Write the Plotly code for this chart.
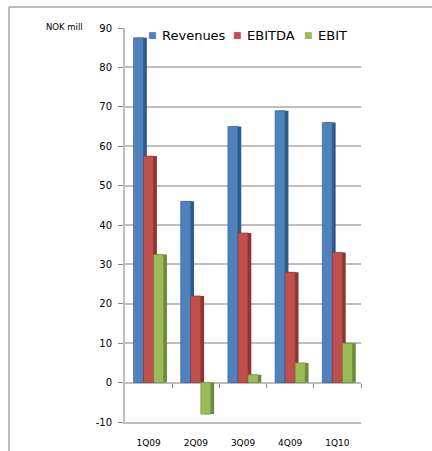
import plotly.graph_objects as go

categories = ["1Q09", "2Q09", "3Q09", "4Q09", "1Q10"]
revenues = [87.5, 46, 65, 69, 66]
ebitda = [57.5, 22, 38, 28, 33]
ebit = [32.5, -8, 2, 5, 10]
series_names = ["Revenues", "EBITDA", "EBIT"]
y_ticks = [-10, 0, 10, 20, 30, 40, 50, 60, 70, 80, 90]
y_ticktext = [str(v) for v in y_ticks]

front_colors = ["#4F81BD", "#C0504D", "#9BBB59"]
side_colors = ["#2F5A8C", "#8E3532", "#6E8A3A"]

W, H = 432, 451
L, R, T, B = 125, 71, 28, 29
pw = W - L - R
ph = H - T - B

xi = list(range(len(categories)))
bw = 0.213
offsets = [-0.32, -0.107, 0.106]
depth = 0.07

fig = go.Figure()
for name, vals, fc, sc, off in zip(series_names, [revenues, ebitda, ebit],
                                   front_colors, side_colors, offsets):
    fig.add_trace(go.Bar(x=xi, y=vals, width=bw, offset=off + depth,
                         marker=dict(color=sc, line=dict(width=0)),
                         showlegend=False, hoverinfo="skip"))
    fig.add_trace(go.Bar(x=xi, y=vals, width=bw, offset=off, name=name,
                         showlegend=False,
                         marker=dict(color=fc, line=dict(width=0.6, color=sc))))

# invisible trace for the zero-line tick axis
fig.add_trace(go.Scatter(x=[0], y=[0], xaxis="x2", mode="markers",
                         marker=dict(opacity=0), showlegend=False, hoverinfo="skip"))

# legend drawn as text entries (square + label)
legend_sq_px = [152, 237, 308]
legend_y = 1 - (35 - T) / ph
annotations = []
for name, fc, sx in zip(series_names, front_colors, legend_sq_px):
    annotations.append(dict(text="■", xref="paper", yref="paper",
                            x=(sx - L) / pw, y=legend_y, xanchor="center",
                            yanchor="middle", showarrow=False,
                            font=dict(size=9, color=fc)))
    annotations.append(dict(text=name, xref="paper", yref="paper",
                            x=(sx + 8 - L) / pw, y=legend_y, xanchor="left",
                            yanchor="middle", showarrow=False,
                            font=dict(size=13, color="#000000")))
annotations.append(dict(text="NOK mill", xref="paper", yref="paper",
                        x=(44 - L) / pw, y=1 + (T - 27) / ph,
                        xanchor="left", yanchor="middle", showarrow=False,
                        font=dict(size=8.5)))

grid = "#BEBEBE"
fig.update_layout(
    width=W, height=H,
    margin=dict(l=L, r=R, t=T, b=B, autoexpand=False),
    barmode="overlay",
    showlegend=False,
    paper_bgcolor="white", plot_bgcolor="white",
    font=dict(family="DejaVu Sans", color="#000000"),
    xaxis=dict(range=[-0.5, 4.5], tickvals=xi, ticktext=categories,
               showgrid=False, zeroline=False, showline=True, linecolor=grid,
               linewidth=2, ticks="", tickfont=dict(size=9), ticklabelstandoff=11,
               automargin=False),
    xaxis2=dict(range=[-0.5, 4.5], overlaying="x", anchor="free",
                position=(0 - (-10)) / (90 - (-10)),
                tickvals=[i + 0.5 for i in xi], showticklabels=False,
                ticks="outside", ticklen=4, tickcolor="#888888", tickwidth=1,
                showgrid=False, zeroline=False, showline=False, automargin=False),
    yaxis=dict(range=[-10, 90], tickvals=y_ticks, ticktext=y_ticktext,
               showgrid=True, gridcolor=grid,
               gridwidth=2, zeroline=True, zerolinecolor=grid, zerolinewidth=2,
               showline=True, linecolor=grid, linewidth=2,
               ticks="outside", ticklen=5, tickcolor="#888888",
               tickfont=dict(size=10), ticklabelstandoff=4, automargin=False),
    annotations=annotations,
    shapes=[
        dict(type="line", xref="paper", yref="paper",
             x0=(9 - L) / pw, x1=(W - L) / pw, y0=1 + (T - 7) / ph, y1=1 + (T - 7) / ph,
             line=dict(color="#A6A6A6", width=1.5)),
        dict(type="line", xref="paper", yref="paper",
             x0=(9 - L) / pw, x1=(9 - L) / pw, y0=1 + (T - 7) / ph, y1=-B / ph - 0.01,
             line=dict(color="#A6A6A6", width=1.5)),
    ],
)

fig.write_html("out.html", config={"displayModeBar": False},
               post_script="document.body.style.margin='0';document.body.style.overflow='hidden';")
